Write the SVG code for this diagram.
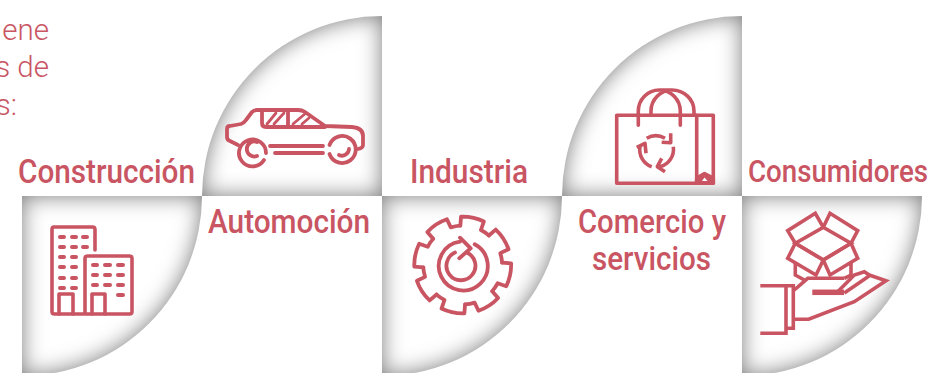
<svg xmlns="http://www.w3.org/2000/svg" width="936" height="373" viewBox="0 0 936 373">
<defs>
<filter id="inset" x="-20%" y="-20%" width="140%" height="140%" color-interpolation-filters="sRGB">
<feComponentTransfer in="SourceAlpha" result="inv"><feFuncA type="table" tableValues="1 0"/></feComponentTransfer>
<feGaussianBlur in="inv" stdDeviation="11" result="b"/>
<feFlood flood-color="#7a7a7a"/>
<feComposite in2="b" operator="in"/>
<feComposite in2="SourceAlpha" operator="in" result="sh"/>
<feMerge><feMergeNode in="SourceGraphic"/><feMergeNode in="sh"/></feMerge>
</filter>
<path id="qb" d="M0 0H180A180 180 0 0 1 0 180Z"/>
<path id="qt" d="M180 0V180H0A180 180 0 0 1 180 0Z"/>
<path id="tooth" d="M38-10.500L47-11.700A48.500 48.500 0 0 1 47 11.700L38 10.500A39.500 39.500 0 0 1 34.400 19.400"/>
</defs>
<style>
text{font-family:Roboto,"Liberation Sans",sans-serif;fill:#c95563}
.l{font-size:34px;font-weight:500}
.p{font-size:29.500px;font-weight:300;text-anchor:end}
.q{fill:#fff;filter:url(#inset)}
.i{fill:none;stroke:#c95563;stroke-width:3.600;stroke-linecap:round;stroke-linejoin:round}
.d{stroke-width:4}
</style>
<rect width="936" height="373" fill="#fff"/>
<g id="intro"><text class="p" x="49" y="40">ene</text><text class="p" x="49" y="77">s de</text><text class="p" x="17" y="115">s:</text></g>

<g id="construccion">
<use href="#qb" class="q" x="22" y="196"/>
<g class="i">
<path d="M95 250V229.500Q95 227 92.500 227H54Q52 227 52 229.500V311.500Q52 314 54.500 314H129.500Q132 314 132 311.500V258.500Q132 256 129.500 256H87.500Q85 256 85 258.500V314"/>
<path d="M59 314V294H73V314M92 314V294H105V314"/>
<g class="d">
<path d="M60 237H64M72 237H76M83 237H87M60 247H64M72 247H76M83 247H87M60 257H64M72 257H76M60 267H64M72 267H76M60 278H64M72 278H76M60 288H64M72 288H76"/>
<path d="M93 265H97M105 265H110M118 265H123M93 275H97M105 275H110M118 275H123M93 285H97M105 285H110M118 285H123M118 295H123"/>
</g>
</g>
<text class="l" x="18" y="183" textLength="177" lengthAdjust="spacingAndGlyphs">Construcción</text>
</g>

<g id="automocion">
<use href="#qt" class="q" x="202" y="16"/>
<g class="i" style="stroke-width:3.800">
<path d="M238 145L230 141Q227 140 227 137V129Q227 126 230 126L241 124Q244 123 246 120L252 112Q254 110 257 110H298Q302 110 305 112L325 126L352 127Q363 128 363 136V145Q363 148 358 149"/>
<path d="M262 110V123Q262 127 266 127H325M288 110V125"/>
<path d="M267 124L276 113M274 124L284 113M293 124L306 113M302 124L309 118" style="stroke-width:2.800"/>
<path d="M264 160A13.500 13.500 0 1 1 266 153M257 142A7.500 7.500 0 1 0 257 156"/>
<path d="M329.500 145A13.500 13.500 0 1 1 329.500 154M349 149A7 7 0 0 1 339 155"/>
<path d="M270 146H323M275 153H323"/>
</g>
<text class="l" x="208" y="233" textLength="162" lengthAdjust="spacingAndGlyphs">Automoción</text>
</g>

<g id="industria">
<use href="#qb" class="q" x="382" y="196"/>
<g class="i" style="stroke-width:3.800">
<g transform="translate(462.700 265)">
<use href="#tooth" transform="rotate(-78)"/><use href="#tooth" transform="rotate(-33)"/><use href="#tooth" transform="rotate(12)"/><use href="#tooth" transform="rotate(57)"/><use href="#tooth" transform="rotate(102)"/><use href="#tooth" transform="rotate(147)"/><use href="#tooth" transform="rotate(192)"/><use href="#tooth" transform="rotate(237)"/>
</g>
<path d="M474.700 244.300A24.500 24.500 0 1 1 460 241.700"/>
<path d="M467.300 252.700A14.500 14.500 0 1 1 455 252.500"/>
<path d="M460 237.700L470.700 248.300L459.300 258.300"/>
</g>
<text class="l" x="410" y="183" textLength="118" lengthAdjust="spacingAndGlyphs">Industria</text>
</g>

<g id="comercio">
<use href="#qt" class="q" x="562" y="16"/>
<g class="i">
<path d="M696.700 115.300H616.700V183.300H696.700"/>
<path d="M696.700 115.300H713.300V183.300H696.700Z"/>
<path d="M696.700 178L704.500 173.500L713.300 178V183.300H696.700Z" fill="#c95563"/>
<path d="M702 181L704.500 177.500L707.500 181Z" fill="#fff" stroke="none"/>
<path d="M638.300 125.300V111A21 21 0 0 1 659.300 90H672A22 21 0 0 1 694 111V115M651 115V111A21 21 0 0 1 672 90M659.300 90A21 21 0 0 1 680.300 111V125.300"/>
<g style="stroke-linecap:butt">
<path d="M646.700 138.300A18 18 0 0 1 665 138.300M670.700 133.300V142.700L661.700 142.300"/>
<path d="M673.300 146.700A18 18 0 0 1 660 166.700M665 171.700L657.300 166.700L661.700 158.300"/>
<path d="M651.700 166.700A18 18 0 0 1 640 146.700M636.700 147.300L645 143.300L646 153.300"/>
</g>
</g>
<text class="l" x="578" y="233" textLength="148" lengthAdjust="spacingAndGlyphs">Comercio y</text>
<text class="l" x="592" y="270" textLength="119" lengthAdjust="spacingAndGlyphs">servicios</text>
</g>

<g id="consumidores">
<use href="#qb" class="q" x="742" y="196"/>
<g class="i" style="stroke-linecap:butt;stroke-linejoin:miter">
<path d="M823.300 227.300L815.300 213.300L787.700 230.700L795.300 243.300ZM823.300 227.300L830 213.300L857.700 230.700L851 243.300ZM823.300 227.300L851 243.300L823.300 260L795.300 243.300Z"/>
<path d="M795.300 243.300L787.700 258.300L816 275L823.300 260ZM851 243.300L857.700 258.300L830 275L823.300 260Z"/>
<path d="M795.300 262V275L804.300 280M851 263V275L844.300 278.300"/>
<path d="M794.300 290L807.700 278.300H844.300"/>
<path d="M844.300 293L856 285L864 279.500L869 276"/>
<path d="M837.700 291.700L854.300 275L864.300 271.700L869.300 275L886 280.700L854.300 301.700L808.700 319.300H793.700"/>
<path d="M786 285.700V333.300H760.300M786 285.700H760.300M786 285.700H793.300V328.300H786"/>
<path d="M812.300 292.300H844" style="stroke-width:5.500"/>
</g>
<text class="l" x="748" y="182" textLength="180" lengthAdjust="spacingAndGlyphs" style="font-size:31px">Consumidores</text>
</g>
</svg>
